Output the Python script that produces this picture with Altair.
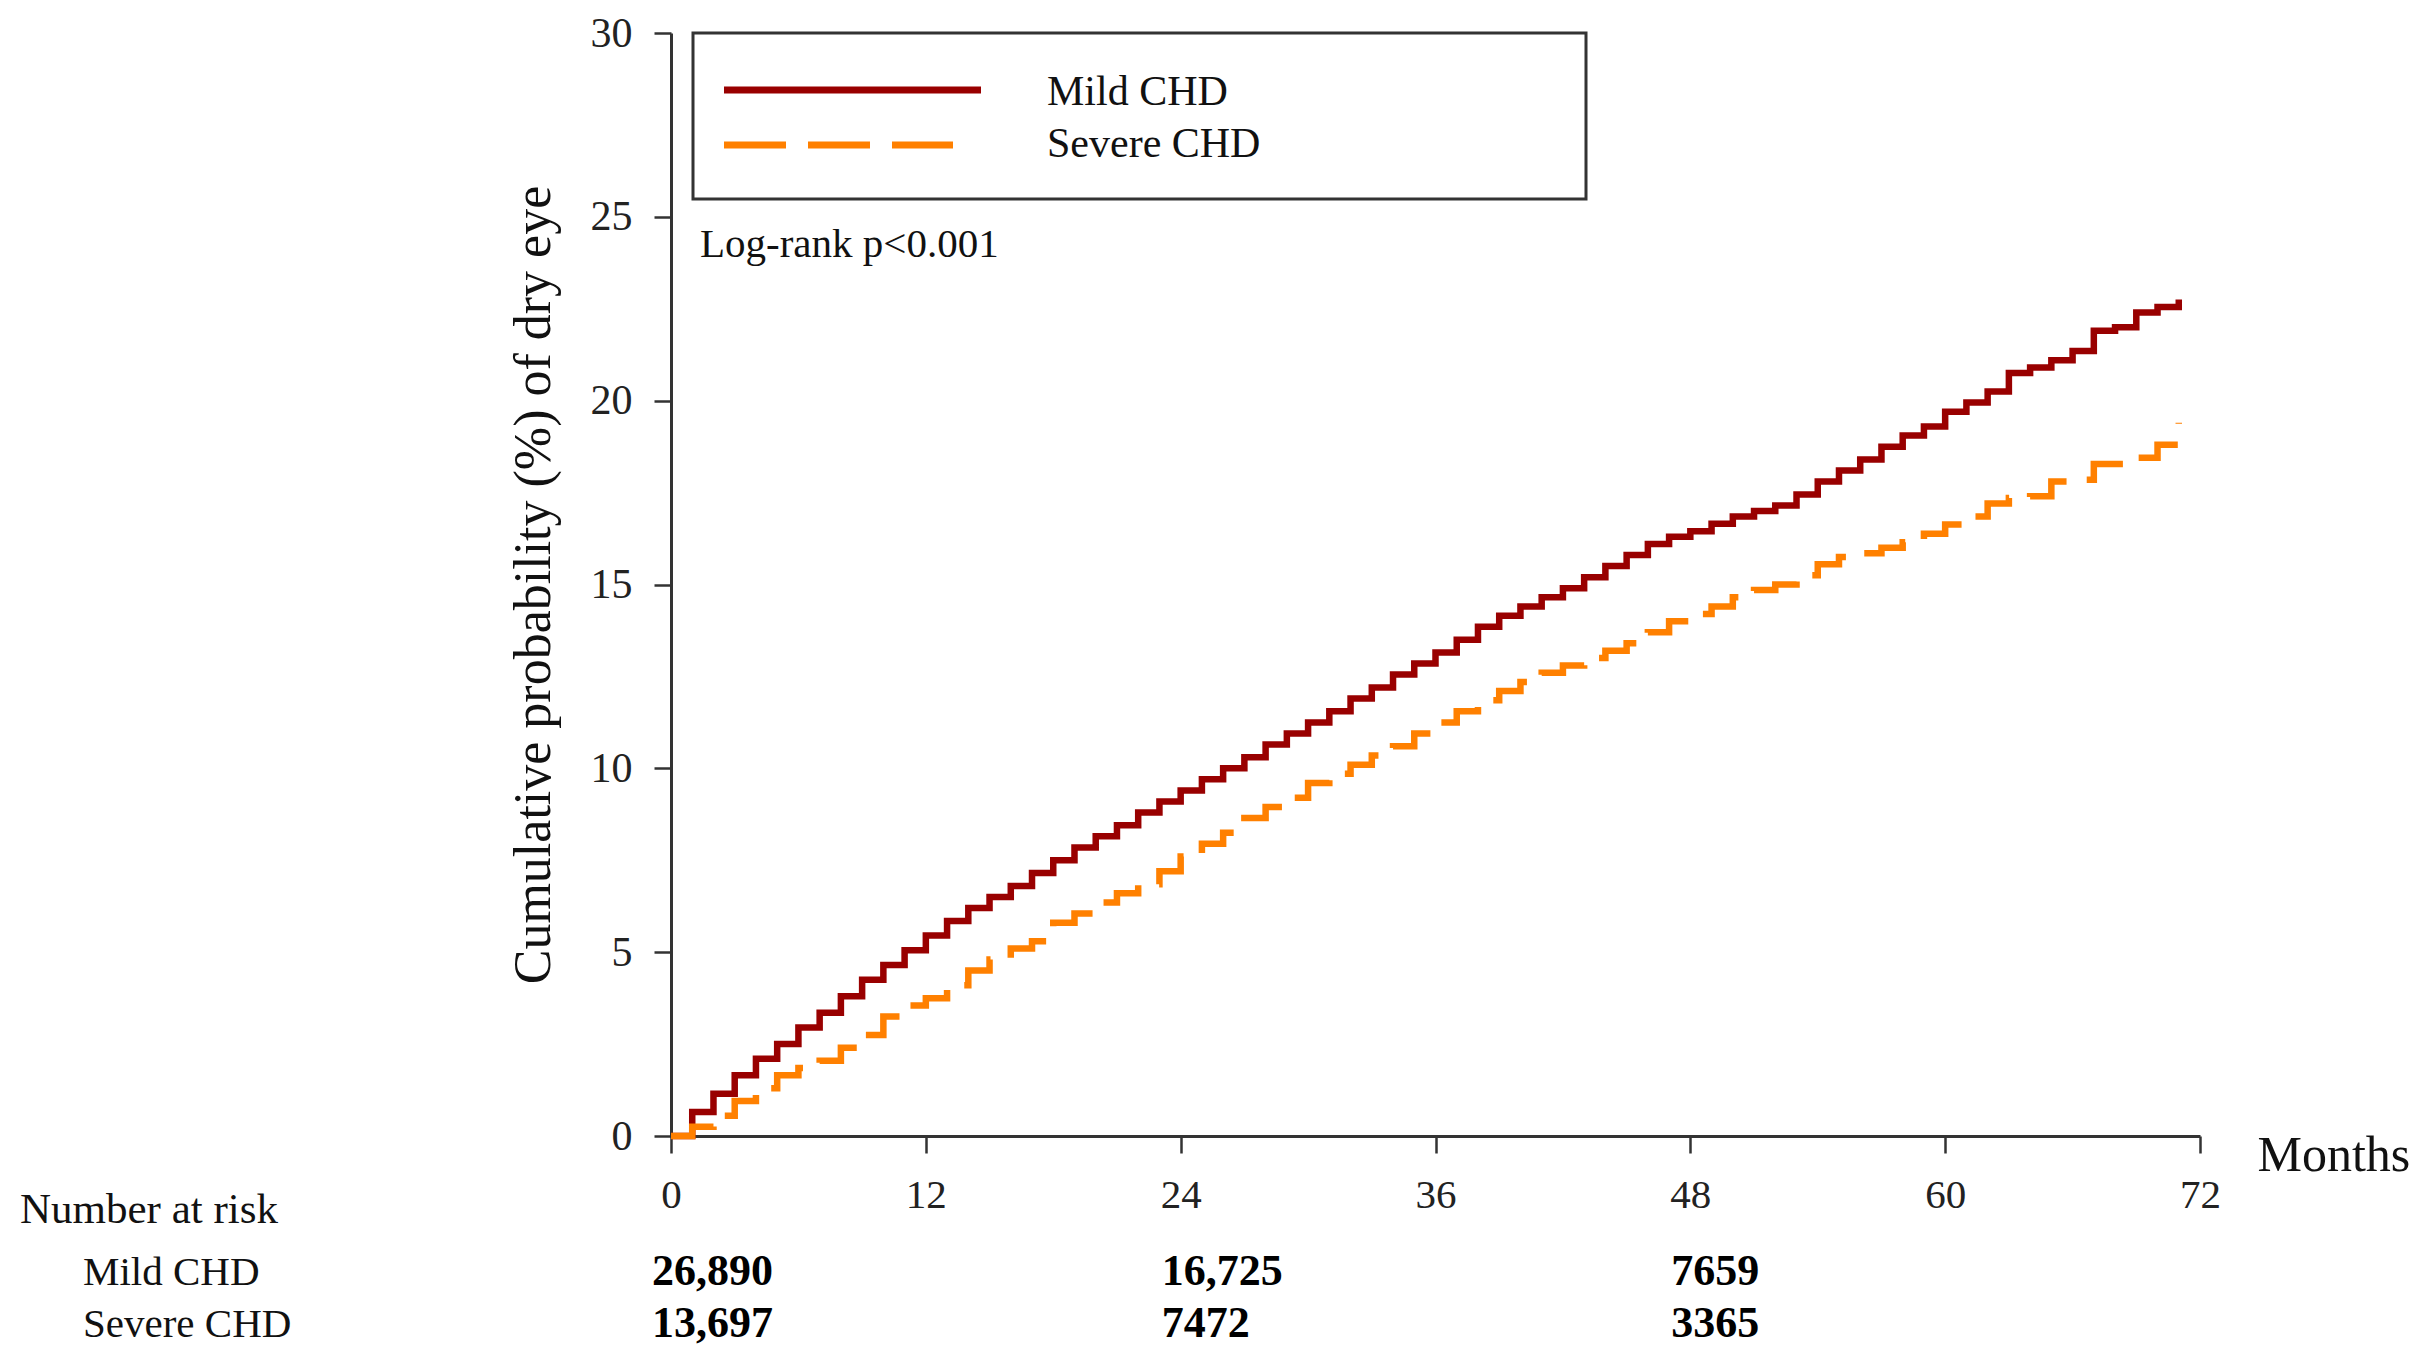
import altair as alt
import pandas as pd

# ---------------- data ----------------
MONTHS = list(range(0, 72))
MILD = [0.0, 0.65, 1.15, 1.65, 2.1, 2.5, 2.95, 3.35, 3.8, 4.25, 4.65, 5.05,
        5.45, 5.85, 6.2, 6.5, 6.8, 7.15, 7.5, 7.85, 8.15, 8.45, 8.8, 9.1,
        9.4, 9.7, 10.0, 10.3, 10.65, 10.95, 11.25, 11.55, 11.9, 12.2, 12.55, 12.85,
        13.15, 13.5, 13.85, 14.15, 14.4, 14.65, 14.9, 15.2, 15.5, 15.8, 16.1, 16.3,
        16.45, 16.65, 16.85, 17.0, 17.15, 17.45, 17.8, 18.1, 18.4, 18.75, 19.05, 19.3,
        19.7, 19.95, 20.25, 20.75, 20.9, 21.1, 21.35, 21.9, 22.0, 22.4, 22.55, 22.75]
SEVERE = [0.0, 0.25, 0.55, 0.95, 1.3, 1.65, 1.85, 2.05, 2.4, 2.75, 3.25, 3.55,
          3.75, 4.1, 4.5, 4.8, 5.1, 5.3, 5.8, 6.05, 6.35, 6.6, 6.85, 7.2,
          7.6, 7.95, 8.25, 8.65, 8.95, 9.2, 9.6, 9.85, 10.1, 10.35, 10.6, 10.95,
          11.25, 11.55, 11.85, 12.1, 12.35, 12.6, 12.8, 13.0, 13.2, 13.4, 13.7, 14.0,
          14.2, 14.4, 14.65, 14.85, 15.0, 15.25, 15.55, 15.75, 15.85, 16.0, 16.15, 16.38,
          16.63, 16.85, 17.2, 17.35, 17.4, 17.8, 17.85, 18.28, 18.28, 18.45, 18.8, 19.4]
SERIES = ["Mild CHD", "Severe CHD"]
COLORS = ["#990000", "#FF8000"]
X_TICKS = [0, 12, 24, 36, 48, 60, 72]
Y_TICKS = [0, 5, 10, 15, 20, 25, 30]
RISK_MONTHS = [0, 24, 48]
RISK_MILD = ["26,890", "16,725", "7659"]
RISK_SEVERE = ["13,697", "7472", "3365"]
PVALUE_TEXT = "Log-rank p<0.001"
RISK_TITLE = "Number at risk"

FONT = "Liberation Serif"
AXIS_COLOR = "#333333"

mild_df = pd.DataFrame({"month": MONTHS, "value": MILD})
sev_df = pd.DataFrame({"month": MONTHS, "value": SEVERE})
risk_mild_df = pd.DataFrame({"month": RISK_MONTHS, "label": RISK_MILD})
risk_sev_df = pd.DataFrame({"month": RISK_MONTHS, "label": RISK_SEVERE})
one = pd.DataFrame({"k": [0]})

X_ENC = alt.X(
    "month:Q",
    scale=alt.Scale(domain=[0, 72], nice=False, zero=False),
    axis=alt.Axis(
        values=X_TICKS, format="d", grid=False,
        labelFont=FONT, labelFontSize=41, labelColor="#222222", labelPadding=22,
        tickSize=17, tickWidth=2.5, tickColor=AXIS_COLOR,
        domainColor=AXIS_COLOR, domainWidth=3,
        title="Months", titleFont=FONT, titleFontSize=50, titleFontWeight="normal",
        titleColor="#111111", titleX=1586, titleY=34, titleAlign="left",
        titleBaseline="alphabetic", labelFlush=False,
    ),
)
Y_ENC = alt.Y(
    "value:Q",
    scale=alt.Scale(domain=[0, 30], nice=False),
    axis=alt.Axis(
        values=Y_TICKS, format="d", grid=False,
        labelFont=FONT, labelFontSize=42, labelColor="#222222", labelPadding=22,
        tickSize=17, tickWidth=2.5, tickColor=AXIS_COLOR,
        domainColor=AXIS_COLOR, domainWidth=3,
        title="Cumulative probability (%) of dry eye", titleFont=FONT,
        titleFontSize=52, titleFontWeight="normal", titleColor="#111111",
        titlePadding=30,
    ),
)

mild_line = alt.Chart(mild_df).mark_line(
    interpolate="step-after", color=COLORS[0], strokeWidth=6.5,
    strokeJoin="miter", strokeCap="butt",
).encode(x=X_ENC, y=Y_ENC)

sev_line = alt.Chart(sev_df).mark_line(
    interpolate="step-after", color=COLORS[1], strokeWidth=6.5,
    strokeJoin="miter", strokeCap="butt", strokeDash=[52, 22],
).encode(x=X_ENC, y=Y_ENC)

# ---------------- legend box ----------------
legend_box = alt.Chart(one).mark_rect(
    filled=False, stroke=AXIS_COLOR, strokeWidth=3
).encode(x=alt.value(22), x2=alt.value(915), y=alt.value(0), y2=alt.value(166))

leg_mild = alt.Chart(one).mark_rule(color=COLORS[0], strokeWidth=7).encode(
    x=alt.value(53), x2=alt.value(310), y=alt.value(57))
leg_sev = alt.Chart(one).mark_rule(color=COLORS[1], strokeWidth=7, strokeDash=[62, 22]).encode(
    x=alt.value(53), x2=alt.value(282), y=alt.value(112))

def txt(text, x, y, size, weight="normal", align="left"):
    return alt.Chart(one).mark_text(
        font=FONT, fontSize=size, fontWeight=weight, align=align,
        baseline="alphabetic", color="#111111",
    ).encode(text=alt.value(text), x=alt.value(x), y=alt.value(y))

leg_t1 = txt(SERIES[0], 376, 72, 42)
leg_t2 = txt(SERIES[1], 376, 124, 42)
pval = txt(PVALUE_TEXT, 29, 224, 41)

# ---------------- risk table ----------------
risk_title = txt(RISK_TITLE, -651, 1190, 43)
row1 = txt(SERIES[0], -588, 1252, 41)
row2 = txt(SERIES[1], -588, 1304, 41)

risk1 = alt.Chart(risk_mild_df).mark_text(
    font=FONT, fontSize=44, fontWeight="bold", align="left", dx=-19,
    baseline="alphabetic", color="#000000",
).encode(x=X_ENC, y=alt.value(1252), text="label:N")
risk2 = alt.Chart(risk_sev_df).mark_text(
    font=FONT, fontSize=44, fontWeight="bold", align="left", dx=-19,
    baseline="alphabetic", color="#000000",
).encode(x=X_ENC, y=alt.value(1304), text="label:N")

chart = alt.layer(
    mild_line, sev_line, legend_box, leg_mild, leg_sev, leg_t1, leg_t2, pval,
    risk_title, row1, row2, risk1, risk2,
).properties(
    width=1529, height=1103,
    autosize=alt.AutoSizeParams(type="none"),
    padding={"left": 663, "top": 25, "right": 215, "bottom": 215},
    background="white",
).configure_view(stroke=None)

chart.save("out.html", embed_options={"renderer": "svg", "actions": False})
